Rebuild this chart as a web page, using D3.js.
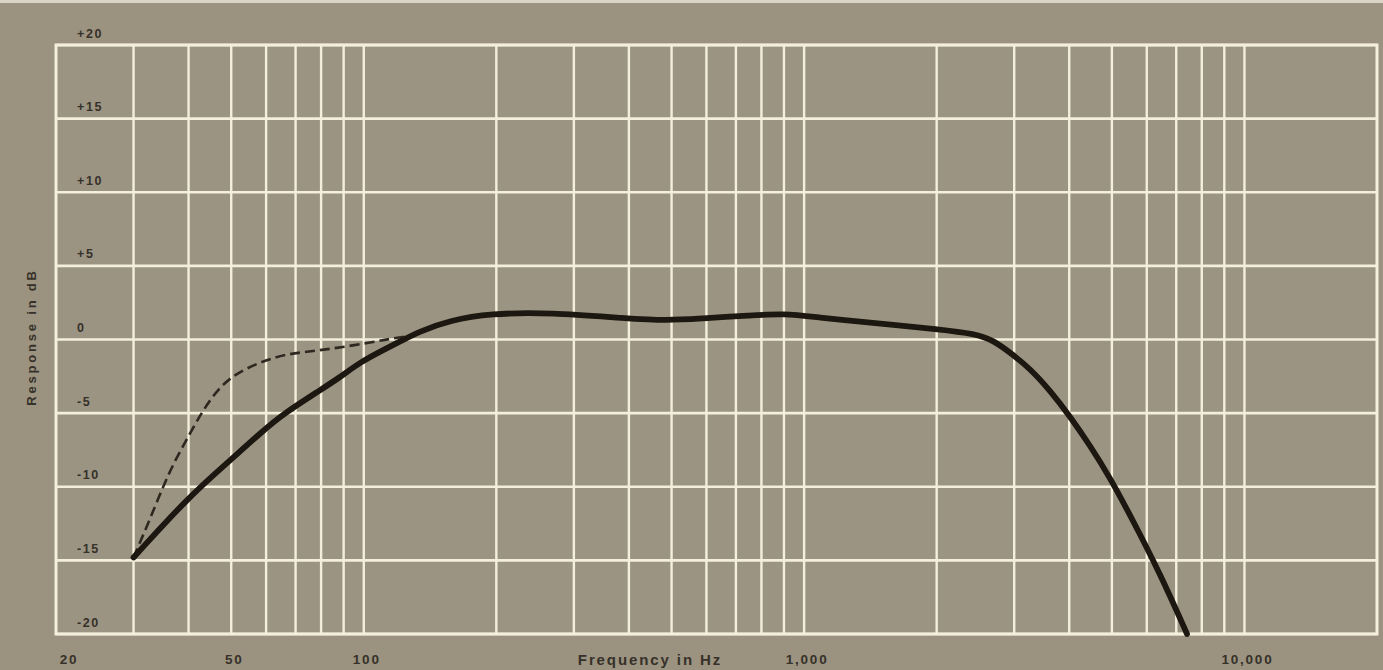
<!DOCTYPE html>
<html>
<head>
<meta charset="utf-8">
<script src="https://cdn.jsdelivr.net/npm/d3@7"></script>
<style>
  html, body { margin: 0; padding: 0; background: #9b937f; }
  svg { display: block; }
</style>
</head>
<body>
<script>
// ---- data ----
const gridFreqs = [30,40,50,60,70,80,90,100,200,300,400,500,600,700,800,900,1000,2000,3000,4000,5000,6000,7000,8000,9000,10000];
const dbTicks = [20,15,10,5,0,-5,-10,-15,-20];
const dbTickLabels = ["+20","+15","+10","+5","0","-5","-10","-15","-20"];
const freqLabelValues = [20,50,100,1000,10000];
const freqLabels = ["20","50","100","1,000","10,000"];

const solidFreq = [30,40,48.7,59,65.7,79,88.4,98,112.6,122,134,157,193.5,265,397,489,582,756,899,1074,1396,1660,1965,2467,2689,2936,3258,3618,4018,4459,4950,5584,6431,7406];
const solidDb   = [-14.8,-10.7,-8.45,-6.2,-5.05,-3.5,-2.56,-1.54,-0.6,-0.07,0.55,1.3,1.77,1.83,1.43,1.29,1.43,1.63,1.77,1.5,1.15,0.95,0.73,0.39,-0.07,-0.88,-1.97,-3.46,-5.23,-7.2,-9.37,-12.3,-15.9,-20.0];

const dashFreq = [30,32.6,36.2,39.5,43.1,47,51.2,58,66.7,79,94.5,112.6,127];
const dashDb   = [-14.8,-12.3,-8.9,-6.86,-4.8,-3.24,-2.33,-1.54,-0.97,-0.75,-0.41,0.0,0.25];

// ---- layout ----
const W = 1383, H = 670;
const svg = d3.select("body").append("svg").attr("width", W).attr("height", H);

const x = d3.scaleLog().domain([20, 20000]).range([56, 1377]);
const y = d3.scaleLinear().domain([-20, 20]).range([634, 45]);

const bg = "#9b937f";
const plotBg = "#9c9482";
const gridCol = "#f4eedc";
const textCol = "#36312a";
const font = "Liberation Sans, Arial, sans-serif";

svg.append("rect").attr("width", W).attr("height", H).attr("fill", bg);
svg.append("rect").attr("width", W).attr("height", 3).attr("fill", "#d8d4c6");

svg.append("rect")
  .attr("x", x(20)).attr("y", y(20))
  .attr("width", x(20000) - x(20)).attr("height", y(-20) - y(20))
  .attr("fill", plotBg);

// vertical grid
svg.append("g").selectAll("line").data(gridFreqs).join("line")
  .attr("x1", d => x(d)).attr("x2", d => x(d))
  .attr("y1", y(20)).attr("y2", y(-20))
  .attr("stroke", gridCol).attr("stroke-width", 2.4);

// horizontal grid
svg.append("g").selectAll("line").data(dbTicks).join("line")
  .attr("x1", x(20)).attr("x2", x(20000))
  .attr("y1", d => y(d)).attr("y2", d => y(d))
  .attr("stroke", gridCol).attr("stroke-width", 2.6);

// border
svg.append("rect")
  .attr("x", x(20)).attr("y", y(20))
  .attr("width", x(20000) - x(20)).attr("height", y(-20) - y(20))
  .attr("fill", "none").attr("stroke", gridCol).attr("stroke-width", 3);

// y tick labels
svg.append("g").selectAll("text").data(dbTicks).join("text")
  .attr("x", 77).attr("y", d => y(d) - 7.5)
  .attr("font-family", font)
  .attr("font-size", 12.5).attr("font-weight", "bold")
  .attr("letter-spacing", 1.6)
  .attr("fill", textCol)
  .text((d, i) => dbTickLabels[i]);

// x labels
svg.append("g").selectAll("text").data(freqLabelValues).join("text")
  .attr("x", (d, i) => i === 0 ? x(d) + 13 : x(d) + 3)
  .attr("y", 664)
  .attr("text-anchor", "middle")
  .attr("font-family", font)
  .attr("font-size", 13.5).attr("font-weight", "bold")
  .attr("letter-spacing", 1.8)
  .attr("fill", textCol)
  .text((d, i) => freqLabels[i]);

svg.append("text")
  .attr("x", 650).attr("y", 665)
  .attr("text-anchor", "middle")
  .attr("font-family", font)
  .attr("font-size", 15).attr("font-weight", "bold")
  .attr("letter-spacing", 1.9)
  .attr("fill", textCol)
  .text("Frequency in Hz");

svg.append("text")
  .attr("transform", "translate(36,337) rotate(-90)")
  .attr("text-anchor", "middle")
  .attr("font-family", font)
  .attr("font-size", 13).attr("font-weight", "bold")
  .attr("letter-spacing", 2.8)
  .attr("fill", textCol)
  .text("Response in dB");

// curves
const line = d3.line()
  .x(d => x(d[0])).y(d => y(d[1]))
  .curve(d3.curveBasis);

svg.append("path")
  .datum(dashFreq.map((f, i) => [f, dashDb[i]]))
  .attr("d", line)
  .attr("fill", "none")
  .attr("stroke", "#2f2820")
  .attr("stroke-width", 2.6)
  .attr("stroke-dasharray", "10,5");

svg.append("path")
  .datum(solidFreq.map((f, i) => [f, solidDb[i]]))
  .attr("d", line)
  .attr("fill", "none")
  .attr("stroke", "#1c1710")
  .attr("stroke-width", 5.8)
  .attr("stroke-linecap", "round")
  .attr("stroke-linejoin", "round");
</script>
</body>
</html>
